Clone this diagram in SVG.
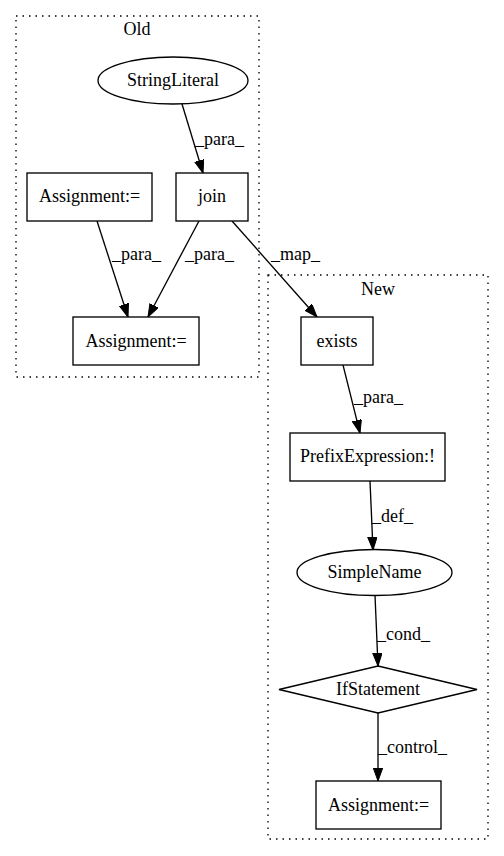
<svg xmlns="http://www.w3.org/2000/svg" width="504" height="856" viewBox="0 0 504 856" font-family="'Liberation Serif', 'DejaVu Serif', serif" font-size="18">
<style>
text{font-family:'Liberation Serif','DejaVu Serif',serif;font-size:18px;fill:#000}
.n{text-anchor:middle}
.shape{fill:#fff;stroke:#000;stroke-width:1.33}
.cl{fill:none;stroke:#000;stroke-width:1.33;stroke-dasharray:1.5,5}
.e{fill:none;stroke:#000;stroke-width:1.33;marker-end:url(#ah)}
</style>
<defs>
<marker id="ah" markerUnits="userSpaceOnUse" markerWidth="14" markerHeight="10" refX="13" refY="4.7" orient="auto">
<path d="M0,0 L13,4.7 L0,9.4 z" fill="#000" stroke="#000" stroke-width="1"/>
</marker>
</defs>
<rect width="504" height="856" fill="#fff"/>
<g id="cluster_old">
<rect class="cl" x="16" y="16" width="243" height="361"/>
<text class="n" x="137" y="35">Old</text>
</g>
<g id="cluster_new">
<rect class="cl" x="268" y="275" width="220" height="564"/>
<text class="n" x="378" y="295">New</text>
</g>
<g id="edges">
<line class="e" x1="182" y1="104" x2="203" y2="173"/>
<text x="195" y="145">_para_</text>
<line class="e" x1="97" y1="221" x2="128" y2="317"/>
<text x="112" y="260">_para_</text>
<line class="e" x1="199" y1="221" x2="148" y2="317"/>
<text x="185" y="260">_para_</text>
<line class="e" x1="232" y1="221" x2="317" y2="317"/>
<text x="271" y="260">_map_</text>
<line class="e" x1="343" y1="365" x2="360" y2="433"/>
<text x="354" y="403">_para_</text>
<line class="e" x1="370" y1="481" x2="373" y2="550"/>
<text x="372" y="522">_def_</text>
<line class="e" x1="375" y1="595" x2="378" y2="666"/>
<text x="377" y="640">_cond_</text>
<line class="e" x1="378" y1="713" x2="378" y2="781"/>
<text x="378" y="753">_control_</text>
</g>
<g id="StringLiteral">
<ellipse class="shape" cx="173" cy="80.5" rx="75" ry="23.5"/>
<text class="n" x="173" y="86">StringLiteral</text>
</g>
<g id="Assignment_old_1">
<rect class="shape" x="27" y="173" width="125" height="48"/>
<text class="n" x="89.5" y="202">Assignment:=</text>
</g>
<g id="join">
<rect class="shape" x="176" y="173" width="72" height="48"/>
<text class="n" x="212" y="202">join</text>
</g>
<g id="Assignment_old_2">
<rect class="shape" x="73" y="317" width="126" height="48"/>
<text class="n" x="136" y="347">Assignment:=</text>
</g>
<g id="exists">
<rect class="shape" x="301" y="317" width="72" height="48"/>
<text class="n" x="337" y="347">exists</text>
</g>
<g id="PrefixExpression">
<rect class="shape" x="290" y="433" width="155" height="48"/>
<text class="n" x="367.5" y="462">PrefixExpression:!</text>
</g>
<g id="SimpleName">
<ellipse class="shape" cx="374.5" cy="572.5" rx="77.5" ry="23"/>
<text class="n" x="374.5" y="578">SimpleName</text>
</g>
<g id="IfStatement">
<polygon class="shape" points="378,666 477,689.5 378,713 279,689.5"/>
<text class="n" x="378" y="695">IfStatement</text>
</g>
<g id="Assignment_new">
<rect class="shape" x="316" y="781" width="125" height="48"/>
<text class="n" x="378.5" y="811">Assignment:=</text>
</g>
</svg>
